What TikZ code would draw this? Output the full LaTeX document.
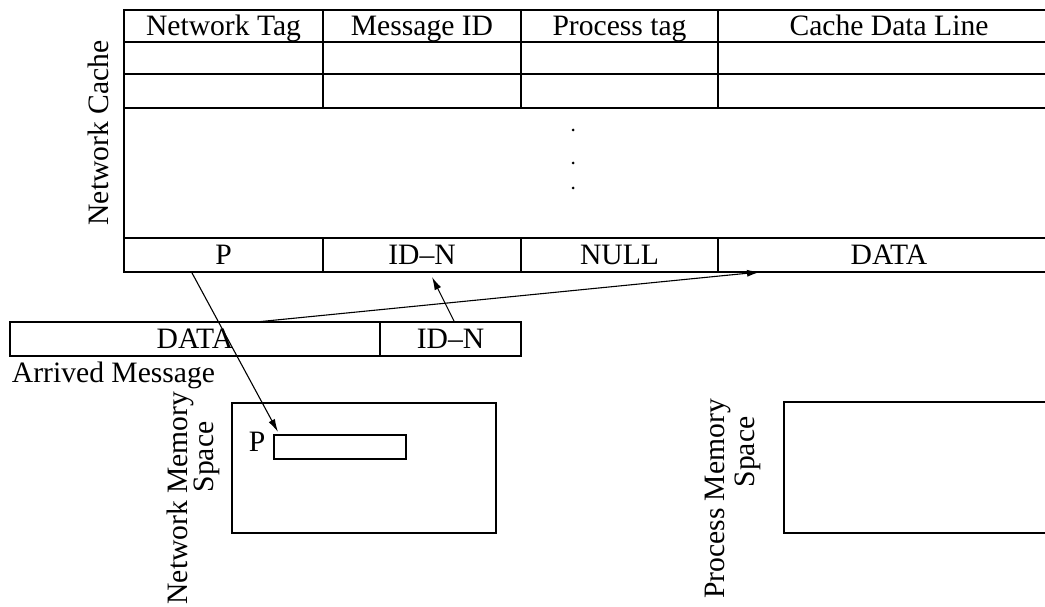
\documentclass[tikz,border=0pt]{standalone}
\usepackage{fontspec}
\setmainfont{Liberation Serif}
\usetikzlibrary{arrows.meta,positioning}

\begin{document}
\begin{tikzpicture}[x=1pt,y=-1pt,node distance=0pt,
  every node/.style={font=\fontsize{29.6pt}{34pt}\selectfont,inner sep=0pt,outer sep=0pt},
  cell/.style={draw,line width=1.6pt,minimum height=32pt,text height=19.5pt,text depth=0pt,align=center},
  tall/.style={minimum height=34pt},
  box/.style={draw,line width=1.6pt,anchor=north west},
  side/.style={rotate=90},
  arr/.style={-{Latex[length=13pt,width=7pt]},line width=1.1pt}]
\clip (0,0) rectangle (1045,607);
% network cache table
\node[cell,minimum width=199pt,anchor=north west] (tag) at (124,10) {Network Tag};
\node[cell,minimum width=198pt,right=of tag] (msgid) {Message ID};
\node[cell,minimum width=197pt,right=of msgid] (ptag) {Process tag};
\node[cell,minimum width=342pt,right=of ptag] (dline) {Cache Data Line};
\node[cell,minimum width=199pt,below=of tag] (a1) {};
\node[cell,minimum width=198pt,below=of msgid] (a2) {};
\node[cell,minimum width=197pt,below=of ptag] (a3) {};
\node[cell,minimum width=342pt,below=of dline] (a4) {};
\node[cell,tall,minimum width=199pt,below=of a1] (b1) {};
\node[cell,tall,minimum width=198pt,below=of a2] (b2) {};
\node[cell,tall,minimum width=197pt,below=of a3] (b3) {};
\node[cell,tall,minimum width=342pt,below=of a4] (b4) {};
\node[box,minimum width=936pt,minimum height=130pt] (gap) at (124,108) {};
\foreach \y in {130,163,188} \fill (573,\y) circle (1.5pt);
\node[cell,tall,minimum width=199pt,anchor=north west] (c1) at (gap.south west) {P};
\node[cell,tall,minimum width=198pt,right=of c1] (c2) {ID--N};
\node[cell,tall,minimum width=197pt,right=of c2] (c3) {NULL};
\node[cell,tall,minimum width=342pt,right=of c3] (c4) {DATA};
\node[side] (nclabel) at (98,133) {Network Cache};
% arrived message
\node[cell,tall,minimum width=370pt,anchor=north west] (mdata) at (10,322) {DATA};
\node[cell,tall,minimum width=141pt,right=of mdata] (mtag) {ID--N};
\node[below right=7pt and 2pt of mdata.south west,text height=19.5pt] (arrived) {Arrived Message};
% memory spaces
\node[box,minimum width=264pt,minimum height=130pt] (netmem) at (232,403) {};
\node[box,minimum width=132pt,minimum height=24pt] (buf) at (274,435) {};
\node[text height=19.5pt] (bufp) at (257,442) {P};
\node[side] (nm1) at (180,498) {Network Memory};
\node[side] (nm2) at (207,457) {Space};
\node[box,minimum width=276pt,minimum height=131pt] (procmem) at (784,402) {};
\node[side] (pm1) at (718,499) {Process Memory};
\node[side] (pm2) at (748,452) {Space};
% connectors
\draw[arr] ([xshift=-32pt]c1.south) -- ([xshift=4pt,yshift=3pt]buf.north west);
\draw[arr] ([xshift=4pt]mtag.north) -- ([xshift=10pt,yshift=-5pt]c2.south);
\draw[arr] ([xshift=61pt]mdata.north) -- ([xshift=42pt]c4.south west);
\end{tikzpicture}
\end{document}
